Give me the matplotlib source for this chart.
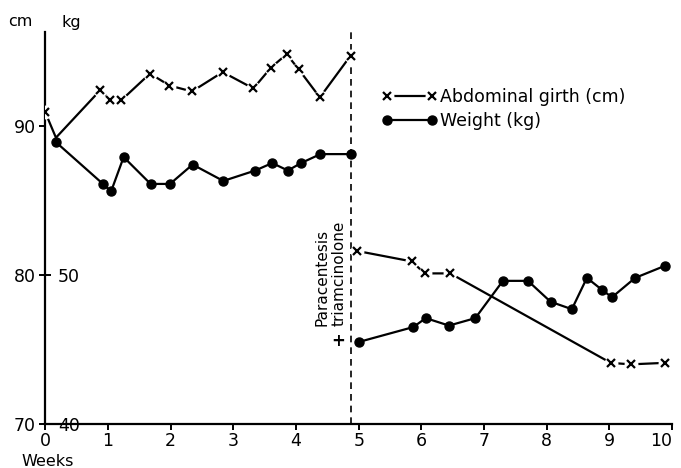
import matplotlib.pyplot as plt
from matplotlib.lines import Line2D

# abdominal girth (cm), before and after paracentesis
girth_weeks_pre = [0, 0.17, 0.88, 1.04, 1.21, 1.67, 1.98, 2.34, 2.83, 3.32, 3.6, 3.85, 4.04, 4.38, 4.87]
girth_pre = [90.9, 89.2, 92.4, 91.7, 91.7, 93.5, 92.7, 92.3, 93.6, 92.5, 93.9, 94.8, 93.8, 91.9, 94.7]
girth_weeks_post = [4.98, 5.85, 6.05, 6.46, 9.02, 9.34, 9.88]
girth_post = [81.6, 80.9, 80.1, 80.1, 74.1, 74.0, 74.1]

# weight (kg)
weight_weeks_pre = [0.17, 0.92, 1.05, 1.25, 1.68, 1.99, 2.35, 2.84, 3.35, 3.62, 3.87, 4.08, 4.39, 4.87]
weight_pre = [58.9, 56.1, 55.6, 57.9, 56.1, 56.1, 57.4, 56.3, 57.0, 57.5, 57.0, 57.5, 58.1, 58.1]
weight_weeks_post = [5.0, 5.87, 6.07, 6.44, 6.86, 7.3, 7.7, 8.06, 8.4, 8.64, 8.88, 9.04, 9.41, 9.88]
weight_post = [45.5, 46.5, 47.1, 46.6, 47.1, 49.6, 49.6, 48.2, 47.7, 49.8, 49.0, 48.5, 49.8, 50.6]

week_ticks = list(range(11))
cm_ticks = [70, 80, 90]
kg_ticks = [40, 50]
event_week = 4.87

fig = plt.figure(figsize=(6.81, 4.68), dpi=100)
ax = fig.add_axes([0.0665, 0.094, 0.9205, 0.838])
ax2 = ax.twinx()

ax.set_xlim(0, 10)
ax.set_ylim(70, 96.3)
ax2.set_ylim(40, 66.3)

lw = 1.6

def girth_line(weeks, vals, hide=()):
    ax.plot(weeks, vals, color='black', lw=lw, zorder=2)
    keep = [i for i in range(len(weeks)) if i not in hide]
    # white halo so the line stops short of each cross
    ax.plot(weeks, vals, ls='none', marker='o', ms=10, mfc='white', mec='none',
            markevery=keep, zorder=3)
    ax.plot(weeks, vals, ls='none', marker='x', ms=5.5, mew=1.6, color='black',
            markevery=keep, zorder=4)

girth_line(girth_weeks_pre, girth_pre, hide=(1,))
girth_line(girth_weeks_post, girth_post)

for w, v in [(weight_weeks_pre, weight_pre), (weight_weeks_post, weight_post)]:
    ax2.plot(w, v, color='black', lw=lw, marker='o', ms=6.5, zorder=5)

ax.axvline(event_week, color='black', lw=1.2, ls=(0, (4, 3)), zorder=1)

ax.text(4.415, 76.6, 'Paracentesis', rotation=90, ha='center', va='bottom', fontsize=11)
ax.text(4.68, 76.6, 'triamcinolone', rotation=90, ha='center', va='bottom', fontsize=11)
ax.text(4.68, 75.6, '+', ha='center', va='center', fontsize=12, fontweight='bold')

# spines and ticks
for a in (ax, ax2):
    a.spines['top'].set_visible(False)
ax.spines['right'].set_visible(False)
ax2.spines['right'].set_visible(False)
ax2.spines['left'].set_visible(False)
ax2.spines['bottom'].set_visible(False)
ax.spines['left'].set_linewidth(1.6)
ax.spines['bottom'].set_linewidth(1.6)

ax.set_xticks(week_ticks)
ax.set_xticklabels([str(t) for t in week_ticks])
ax.set_yticks(cm_ticks)
ax.tick_params(axis='both', labelsize=12.5, width=1.4, length=4, direction='out')
ax.tick_params(axis='x', pad=2)
ax.tick_params(axis='y', pad=3)
ax.get_xticklabels()[-1].set_horizontalalignment('right')

ax2.spines['right'].set_position(('axes', 0))
ax2.set_yticks(kg_ticks)
ax2.tick_params(axis='y', labelsize=12.5, width=1.4, length=4, direction='out', pad=5)

fig.text(20 / 681, 1 - 22 / 468, 'cm', ha='center', va='center', fontsize=11.5)
fig.text(71 / 681, 1 - 22 / 468, 'kg', ha='center', va='center', fontsize=11.5)
fig.text(48 / 681, 1 - 454 / 468, 'Weeks', ha='center', va='top', fontsize=11.5)

# legend
g_line = Line2D([], [], color='black', lw=lw)
g_halo = Line2D([], [], ls='none', marker='o', ms=10, mfc='white', mec='none')
g_x = Line2D([], [], ls='none', marker='x', ms=5.5, mew=1.6, color='black')
w_h = Line2D([], [], color='black', lw=lw, marker='o', ms=6.5)
fig.legend([(g_line, g_halo, g_x), w_h], ['Abdominal girth (cm)', 'Weight (kg)'],
           loc='center left', bbox_to_anchor=(366 / 681, 1 - 109 / 468),
           numpoints=2, frameon=False, fontsize=12.5, handlelength=3.2,
           handletextpad=0.15, labelspacing=0.35)

fig.savefig('out.png', dpi=100)
